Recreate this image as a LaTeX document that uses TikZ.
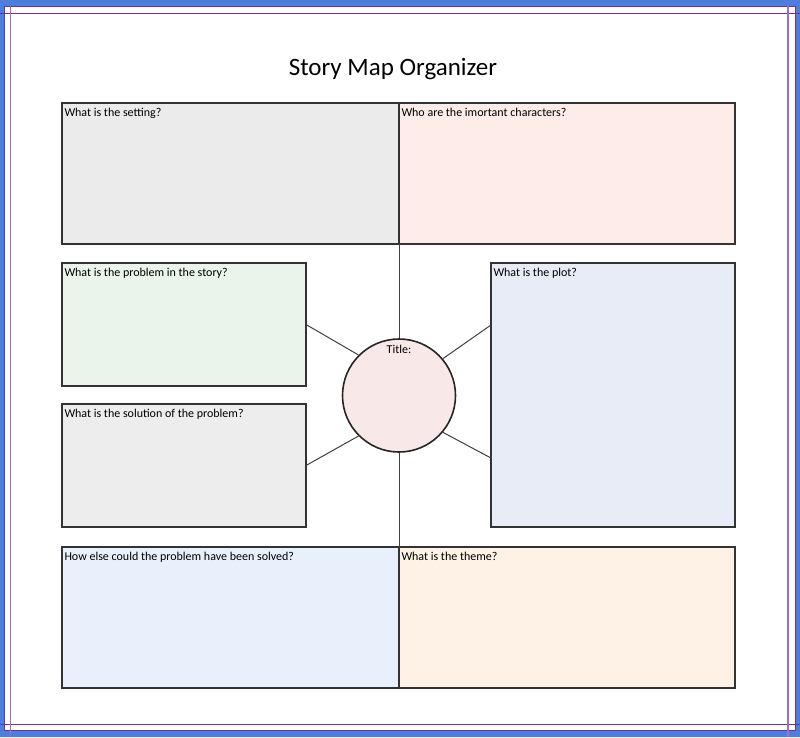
\documentclass[tikz,border=0pt]{standalone}
\usepackage{fontspec}
\setmainfont{Carlito}
\usetikzlibrary{positioning}

\definecolor{frameblue}{RGB}{77,126,220}
\definecolor{framepurple}{RGB}{112,48,160}
\definecolor{guidepurple}{RGB}{160,110,205}
\definecolor{settingfill}{RGB}{235,235,235}
\definecolor{charfill}{RGB}{253,236,232}
\definecolor{probfill}{RGB}{235,244,234}
\definecolor{solfill}{RGB}{237,237,237}
\definecolor{plotfill}{RGB}{232,236,247}
\definecolor{elsefill}{RGB}{232,241,251}
\definecolor{themefill}{RGB}{253,242,229}
\definecolor{titlefill}{RGB}{249,232,232}

\begin{document}
\begin{tikzpicture}[
  x=1pt, y=-1pt,
  qbox/.style={rectangle, draw=black!80, line width=1.6pt, anchor=north west,
              inner sep=0pt, outer sep=0pt},
  qlabel/.style={anchor=north west, inner xsep=2.5pt, inner ysep=5pt, outer sep=0pt,
                font=\fontsize{12}{14}\selectfont},
  spoke/.style={draw=black!75, line width=1pt}
]
\useasboundingbox (0,0) rectangle (800,737);
% page frame
\fill[frameblue, even odd rule] (0,0) rectangle (800,737) (4,6) rectangle (796,731);
\draw[framepurple, line width=1pt] (4.5,6.5) rectangle (795.5,730.5);
\draw[framepurple, line width=0.8pt] (0,13.5) -- (800,13.5);
\draw[framepurple, line width=0.8pt] (0,724) -- (800,724);
\draw[guidepurple, line width=1.2pt] (10.5,6) -- (10.5,737);
\draw[guidepurple, line width=1.2pt] (788,6) -- (788,737);

\node[font=\fontsize{25}{30}\selectfont] (head) at (393,69) {Story Map Organizer};

\node[qbox, fill=settingfill, minimum width=337pt, minimum height=141pt,
      label={[qlabel]north west:What is the setting?}] (setting) at (62,103) {};
\node[qbox, fill=charfill, minimum width=336pt, minimum height=141pt,
      label={[qlabel]north west:Who are the imortant characters?}] (chars) at (setting.north east) {};
\node[qbox, fill=probfill, minimum width=244pt, minimum height=123pt,
      label={[qlabel]north west:What is the problem in the story?}] (prob) at ([yshift=-19pt]setting.south west) {};
\node[qbox, fill=solfill, minimum width=244pt, minimum height=123pt,
      label={[qlabel]north west:What is the solution of the problem?}] (sol) at ([yshift=-18pt]prob.south west) {};
\node[qbox, fill=plotfill, minimum width=244pt, minimum height=264pt,
      label={[qlabel]north west:What is the plot?}] (plot) at (491,263) {};
\node[qbox, fill=elsefill, minimum width=337pt, minimum height=141pt,
      label={[qlabel]north west:How else could the problem have been solved?}] (howelse) at (62,547) {};
\node[qbox, fill=themefill, minimum width=336pt, minimum height=141pt,
      label={[qlabel]north west:What is the theme?}] (theme) at (howelse.north east) {};

\node[circle, draw=black!85, line width=1.6pt, fill=titlefill, minimum size=113pt,
      inner sep=0pt] (story) at (399,395.5) {};
\node[font=\fontsize{12}{14}\selectfont, anchor=north] (titletxt) at ([yshift=-3pt]story.north) {Title:};

% spokes
\draw[spoke] (setting.south east) -- (story.north);
\draw[spoke] (story.south) -- (howelse.north east);
\draw[spoke] (prob.east) -- (story.135);
\draw[spoke] (sol.east) -- (story.225);
\draw[spoke] ([yshift=70pt]plot.west) -- (story.40);
\draw[spoke] ([yshift=-63pt]plot.west) -- (story.320);
\end{tikzpicture}
\end{document}
